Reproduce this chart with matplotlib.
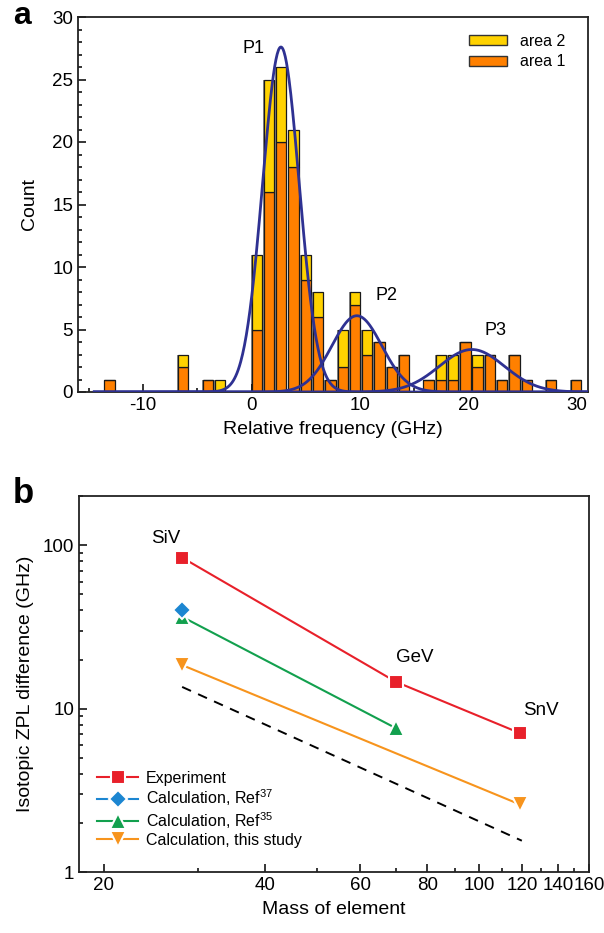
import numpy as np
import matplotlib
matplotlib.use('Agg')
import matplotlib.pyplot as plt
from matplotlib import ticker
from matplotlib.lines import Line2D
from matplotlib.patches import Patch

plt.rcParams['font.family'] = ['Liberation Sans', 'DejaVu Sans']
plt.rcParams['mathtext.fontset'] = 'custom'
plt.rcParams['mathtext.rm'] = 'Liberation Sans'
plt.rcParams['axes.unicode_minus'] = False

# panel a: histogram of relative ZPL frequency
freq = [-13.10, -6.32, -4.05, -2.92, 0.47, 1.60, 2.73, 3.86, 4.99, 6.13, 7.26,
        8.39, 9.52, 10.65, 11.78, 12.91, 14.04, 16.30, 17.44, 18.57, 19.70,
        20.83, 21.96, 23.09, 24.22, 25.35, 27.61, 29.88]
area1 = [1, 2, 1, 0, 5, 16, 20, 18, 9, 6, 1, 2, 7, 3, 4, 2, 3, 1, 1, 1, 4, 2, 3, 1, 3, 1, 1, 1]
area2 = [0, 1, 0, 1, 6, 9, 6, 3, 2, 2, 0, 3, 1, 2, 0, 0, 0, 0, 2, 2, 0, 1, 0, 0, 0, 0, 0, 0]
bin_width = 1.13

peak_names = ['P1', 'P2', 'P3']
peak_amp = [27.6, 6.1, 3.4]
peak_pos = [2.7, 9.7, 20.3]
peak_sigma = [1.68, 2.3, 3.0]
peak_label_x = [0.2, 12.4, 22.5]
peak_label_y = [27.5, 7.7, 4.9]

# panel b: isotopic shift vs mass
exp_mass = [28, 70, 119]
exp_val = [84, 14.6, 7.1]
ref37_mass = [28]
ref37_val = [40]
ref35_mass = [28, 70]
ref35_val = [36.5, 7.6]
this_mass = [28, 119]
this_val = [18.5, 2.6]
scale_mass = [28, 120]
scale_val = [13.6, 1.56]
centre_names = ['SiV', 'GeV', 'SnV']
centre_x = [26.1, 75.7, 130]
centre_y = [110, 20.5, 9.7]

yellow = '#FFD200'
orange = '#FF8000'
navy = '#2E3192'
red = '#E8202A'
blue = '#1C86D1'
green = '#12A04E'
orange2 = '#F7941D'

fig = plt.figure(figsize=(6.04, 9.33), dpi=100)

# ---------- a ----------
ax = fig.add_axes([78/604, 1-392/933, 510/604, 375/933])
f = np.array(freq)
a1 = np.array(area1)
a2 = np.array(area2)
ax.bar(f, a1 + a2, width=bin_width*0.97, color='#8a8a8a', linewidth=0, zorder=1)
ax.bar(f, a1, width=bin_width*0.84, color=orange, edgecolor='#1a1a1a', linewidth=0.9, zorder=2)
ax.bar(f, a2, bottom=a1, width=bin_width*0.84, color=yellow, edgecolor='#1a1a1a', linewidth=0.9, zorder=2)

xs = np.linspace(-14.5, 31, 800)
for amp, mu, sig in zip(peak_amp, peak_pos, peak_sigma):
    ax.plot(xs, amp*np.exp(-(xs-mu)**2/(2*sig**2)), color=navy, lw=2, zorder=3)
for name, x, y in zip(peak_names, peak_label_x, peak_label_y):
    ax.text(x, y, name, fontsize=13, ha='center', va='center')

ax.set_xlim(-16, 31)
ax.set_ylim(0, 30)
ax.xaxis.set_major_locator(ticker.MultipleLocator(10))
ax.xaxis.set_minor_locator(ticker.MultipleLocator(5))
ax.yaxis.set_major_locator(ticker.MultipleLocator(5))
ax.yaxis.set_minor_locator(ticker.MultipleLocator(1))
ax.tick_params(which='both', direction='in', top=False, right=False, labelsize=13.5, width=1.1)
ax.tick_params(which='major', length=6)
ax.tick_params(which='minor', length=3)
ax.set_xlabel('Relative frequency (GHz)', fontsize=14, labelpad=5)
ax.set_ylabel('Count', fontsize=14, labelpad=10)
for s in ax.spines.values():
    s.set_linewidth(1.3)
    s.set_color('#222222')
handles = [Patch(facecolor=yellow, edgecolor='#333333', lw=1), Patch(facecolor=orange, edgecolor='#333333', lw=1)]
ax.legend(handles, ['area 2', 'area 1'], loc='upper right', bbox_to_anchor=(0.955, 0.955),
          frameon=False, fontsize=11.5, handlelength=2.4, handleheight=0.6,
          handletextpad=0.8, labelspacing=0.35, borderpad=0, borderaxespad=0)
fig.text(13/604, 1-1/933, 'a', fontsize=23, fontweight='bold', ha='left', va='top')

# ---------- b ----------
bx = fig.add_axes([79/604, 1-872.3/933, 510/604, 376.3/933])
mk = dict(markeredgecolor='white', markeredgewidth=1.5, lw=1.5)
bx.plot(exp_mass, exp_val, color=red, marker='s', ms=10, label='Experiment', zorder=4, **mk)
bx.plot(ref37_mass, ref37_val, color=blue, marker='D', ms=9.5, label='Calculation, Ref$^{37}$', zorder=4, **mk)
bx.plot(ref35_mass, ref35_val, color=green, marker='^', ms=11, label='Calculation, Ref$^{35}$', zorder=3, **mk)
bx.plot(this_mass, this_val, color=orange2, marker='v', ms=11, label='Calculation, this study', zorder=3, **mk)
bx.plot(scale_mass, scale_val, color='black', ls=(0, (5, 4)), lw=1.4, zorder=2)
for name, x, y in zip(centre_names, centre_x, centre_y):
    bx.text(x, y, name, fontsize=13.5, ha='center', va='center')

bx.set_xscale('log')
bx.set_yscale('log')
bx.set_xlim(18, 160)
bx.set_ylim(1, 200)
bx.xaxis.set_major_locator(ticker.FixedLocator([20, 40, 60, 80, 100, 120, 140, 160]))
bx.xaxis.set_minor_locator(ticker.FixedLocator([30, 50, 70, 90, 110, 130, 150]))
bx.xaxis.set_major_formatter(ticker.FormatStrFormatter('%d'))
bx.xaxis.set_minor_formatter(ticker.NullFormatter())
bx.yaxis.set_major_locator(ticker.FixedLocator([1, 10, 100]))
bx.yaxis.set_major_formatter(ticker.FormatStrFormatter('%d'))
bx.yaxis.set_minor_locator(ticker.LogLocator(base=10, subs=np.arange(2, 10), numticks=10))
bx.yaxis.set_minor_formatter(ticker.NullFormatter())
bx.tick_params(which='both', direction='in', top=False, right=False, labelsize=13.5, width=1.1)
bx.tick_params(which='major', length=6)
bx.tick_params(which='minor', length=3)
bx.set_xlabel('Mass of element', fontsize=14, labelpad=5)
bx.set_ylabel('Isotopic ZPL difference (GHz)', fontsize=14, labelpad=6)
for s in bx.spines.values():
    s.set_linewidth(1.3)
    s.set_color('#222222')
bx.legend(loc='lower left', bbox_to_anchor=(0.035, 0.065), frameon=False, fontsize=11.5,
          handlelength=2.6, handletextpad=0.45, labelspacing=0.12, borderpad=0, borderaxespad=0)
fig.text(13/604, 1-503/933, 'b', fontsize=25, fontweight='bold', ha='left', va='baseline')

fig.savefig('out.png', dpi=100)
